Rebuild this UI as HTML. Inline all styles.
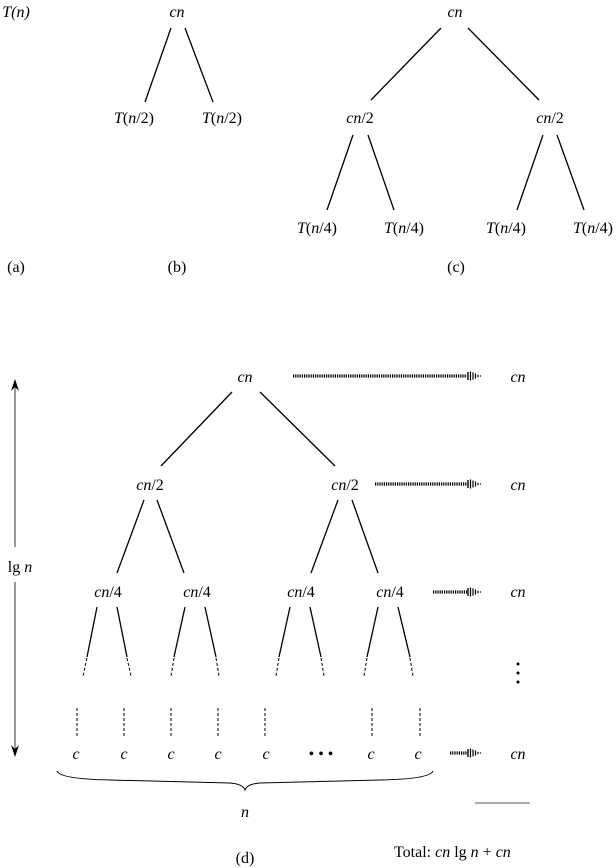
<!DOCTYPE html>
<html><head><meta charset="utf-8"><style>
html,body{margin:0;padding:0;background:#fff;}
svg{display:block;font-family:"Liberation Serif","Times New Roman","DejaVu Serif",serif;}
svg text{font-family:"Liberation Serif","Times New Roman","DejaVu Serif",serif;font-size:16px;fill:#000;}
.i{font-style:italic;}
</style></head><body>
<svg width="616" height="868" viewBox="0 0 616 868" xmlns="http://www.w3.org/2000/svg" font-family="Liberation Serif, Times New Roman, DejaVu Serif, serif" font-size="16">
<defs>
<g id="ah">
<line x1="0" y1="-4" x2="0" y2="4" stroke="#000" stroke-width="1.4"/>
<line x1="2.5" y1="-4.5" x2="2.5" y2="4.5" stroke="#000" stroke-width="1.2"/>
<line x1="5" y1="-3.5" x2="5" y2="3.5" stroke="#000" stroke-width="1.2"/>
<line x1="7.5" y1="-2.5" x2="7.5" y2="2.5" stroke="#000" stroke-width="1.2"/>
<line x1="10" y1="-1.2" x2="10" y2="1.2" stroke="#000" stroke-width="1.2"/>
<line x1="12.5" y1="-0.6" x2="12.5" y2="0.6" stroke="#000" stroke-width="1.2"/>
</g>
</defs>
<g stroke="#000" stroke-width="1.3" fill="none">
<line x1="171" y1="28" x2="145" y2="102"/>
<line x1="185" y1="28" x2="213" y2="102"/>
<line x1="441" y1="28" x2="371" y2="100"/>
<line x1="468" y1="28" x2="539" y2="100"/>
<line x1="353" y1="135" x2="327" y2="210"/>
<line x1="368" y1="135" x2="394" y2="210"/>
<line x1="543" y1="135" x2="517" y2="210"/>
<line x1="557" y1="135" x2="584" y2="210"/>
<line x1="232" y1="392" x2="161" y2="466"/>
<line x1="260" y1="392" x2="335" y2="466"/>
<line x1="144" y1="500" x2="117" y2="573"/>
<line x1="157" y1="500" x2="184" y2="573"/>
<line x1="338" y1="500" x2="311" y2="573"/>
<line x1="352" y1="500" x2="378" y2="573"/>
<line x1="97" y1="607" x2="87" y2="657"/>
<line x1="117" y1="607" x2="127" y2="657"/>
<line x1="185" y1="607" x2="174" y2="657"/>
<line x1="205" y1="607" x2="216" y2="657"/>
<line x1="290" y1="607" x2="279" y2="657"/>
<line x1="310" y1="607" x2="321" y2="657"/>
<line x1="378" y1="607" x2="367" y2="657"/>
<line x1="398" y1="607" x2="410" y2="657"/>
</g>
<g stroke="#000" stroke-width="1" fill="none" stroke-dasharray="3 2">
<line x1="87" y1="658" x2="83" y2="676"/>
<line x1="127" y1="658" x2="131" y2="676"/>
<line x1="174" y1="658" x2="171" y2="676"/>
<line x1="216" y1="658" x2="219" y2="676"/>
<line x1="279" y1="658" x2="276" y2="676"/>
<line x1="321" y1="658" x2="324" y2="676"/>
<line x1="367" y1="658" x2="364" y2="676"/>
<line x1="410" y1="658" x2="413" y2="676"/>
<line x1="77" y1="708" x2="77" y2="737"/>
<line x1="124" y1="708" x2="124" y2="737"/>
<line x1="171" y1="708" x2="171" y2="737"/>
<line x1="218" y1="708" x2="218" y2="737"/>
<line x1="265" y1="708" x2="265" y2="737"/>
<line x1="372" y1="708" x2="372" y2="737"/>
<line x1="420" y1="708" x2="420" y2="737"/>
</g>
<g stroke="#000" stroke-width="3.2" stroke-dasharray="1.2 1">
<line x1="293" y1="376" x2="467" y2="376"/>
<line x1="375" y1="484" x2="467" y2="484"/>
<line x1="433" y1="592" x2="467" y2="592"/>
<line x1="450" y1="753" x2="467" y2="753"/>
</g>
<use href="#ah" x="468" y="376"/>
<use href="#ah" x="468" y="484"/>
<use href="#ah" x="468" y="592"/>
<use href="#ah" x="468" y="753"/>
<g stroke="#555" stroke-width="1.2">
<line x1="15" y1="385" x2="15" y2="547"/>
<line x1="15" y1="582" x2="15" y2="750"/>
</g>
<path d="M15 379 L11 391 L15 387 L19 391 Z" fill="#000"/>
<path d="M15 757 L11 745 L15 749 L19 745 Z" fill="#000"/>
<path d="M57 771 Q60 779 110 780 L230 783 Q243 784 245 790 Q247 784 260 783 L380 780 Q430 779 433 771" stroke="#000" stroke-width="1" fill="none"/>
<line x1="475" y1="803" x2="530" y2="803" stroke="#777" stroke-width="1.3"/>
<circle cx="518" cy="664" r="1.5" fill="#000"/>
<circle cx="518" cy="673" r="1.5" fill="#000"/>
<circle cx="518" cy="682" r="1.5" fill="#000"/>

<g text-anchor="middle">
<text x="16" y="17" class="i">T(n)</text>
<text x="177" y="17" class="i">cn</text>
<text x="134" y="123"><tspan class="i">T</tspan>(<tspan class="i">n</tspan>/2)</text>
<text x="222" y="123"><tspan class="i">T</tspan>(<tspan class="i">n</tspan>/2)</text>
<text x="455" y="17" class="i">cn</text>
<text x="360" y="123"><tspan class="i">cn</tspan>/2</text>
<text x="550" y="123"><tspan class="i">cn</tspan>/2</text>
<text x="317" y="233"><tspan class="i">T</tspan>(<tspan class="i">n</tspan>/4)</text>
<text x="404" y="233"><tspan class="i">T</tspan>(<tspan class="i">n</tspan>/4)</text>
<text x="506" y="233"><tspan class="i">T</tspan>(<tspan class="i">n</tspan>/4)</text>
<text x="593" y="233"><tspan class="i">T</tspan>(<tspan class="i">n</tspan>/4)</text>
<text x="16" y="272">(a)</text>
<text x="177" y="272">(b)</text>
<text x="456" y="272">(c)</text>

<text x="245" y="382" class="i">cn</text>
<text x="518" y="382" class="i">cn</text>
<text x="150" y="490"><tspan class="i">cn</tspan>/2</text>
<text x="345" y="490"><tspan class="i">cn</tspan>/2</text>
<text x="518" y="490" class="i">cn</text>
<text x="108" y="597"><tspan class="i">cn</tspan>/4</text>
<text x="197" y="597"><tspan class="i">cn</tspan>/4</text>
<text x="301" y="597"><tspan class="i">cn</tspan>/4</text>
<text x="390" y="597"><tspan class="i">cn</tspan>/4</text>
<text x="518" y="597" class="i">cn</text>
<text x="20" y="572">lg <tspan class="i">n</tspan></text>
<text x="76" y="759" class="i">c</text>
<text x="124" y="759" class="i">c</text>
<text x="171" y="759" class="i">c</text>
<text x="218" y="759" class="i">c</text>
<text x="266" y="759" class="i">c</text>
<text x="321" y="759">• • •</text>
<text x="371" y="759" class="i">c</text>
<text x="418" y="759" class="i">c</text>
<text x="518" y="759" class="i">cn</text>
<text x="245" y="817" class="i">n</text>
<text x="245" y="863">(d)</text>
</g>
<text x="394" y="857">Total: <tspan class="i">cn</tspan> lg <tspan class="i">n</tspan> + <tspan class="i">cn</tspan></text>
</svg>
</body></html>
